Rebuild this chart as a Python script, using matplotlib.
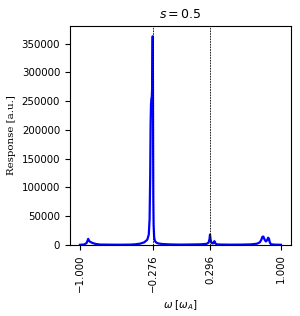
import matplotlib
matplotlib.use('Agg')
import matplotlib.pyplot as plt
import numpy as np

# response curve
omega = [-1.0, -0.96, -0.935, -0.925, -0.918, -0.91, -0.895, -0.87, -0.84, -0.8, -0.7,
         -0.6, -0.5, -0.45, -0.4, -0.36, -0.33, -0.315, -0.307, -0.301, -0.297,
         -0.293, -0.289, -0.285, -0.281, -0.278, -0.276, -0.274, -0.272, -0.27,
         -0.267, -0.262, -0.255, -0.24, -0.22, -0.18, -0.1, 0.0, 0.1, 0.2, 0.26,
         0.28, 0.289, 0.294, 0.3, 0.31, 0.32, 0.33, 0.338, 0.346, 0.36, 0.4, 0.5,
         0.6, 0.7, 0.76, 0.79, 0.805, 0.815, 0.825, 0.838, 0.85, 0.862, 0.872,
         0.88, 0.89, 0.9, 0.93, 1.0]
response = [200, 700, 3000, 7000, 10500, 7000, 5000, 3000, 1500, 600, 400,
            300, 500, 1000, 2200, 4500, 9000, 18000, 45000, 120000, 210000,
            245000, 254000, 258000, 275000, 330000, 363000, 300000, 170000, 80000,
            35000, 14000, 7000, 4000, 2500, 1500, 800, 500, 700, 1000, 1800,
            4000, 10000, 18000, 9000, 3500, 2500, 3500, 6500, 3000, 1000, 600, 400,
            500, 900, 2000, 4500, 9000, 14000, 14500, 9000, 6000, 8000, 12500,
            11000, 4000, 1200, 500, 200]
omega_lines = [-0.276, 0.296]
tick_vals = [-1.0, -0.276, 0.296, 1.0]

plt.rcParams['font.size'] = 7.4

fig = plt.figure(figsize=(3.0, 3.16), dpi=100)
ax = fig.add_axes([0.233, 0.225, 0.737, 0.693])

ax.plot(omega, response, color='blue', lw=1.6)
for w in omega_lines:
  ax.axvline(w, color='black', ls='--', lw=0.6, dashes=(2, 1.2))

ax.set_xticks(tick_vals)
ax.set_xticklabels([('%.3f' % t).replace('-', '\u2212') for t in tick_vals], rotation=90)
ax.set_xlim(-1.1, 1.1)
ax.set_ylim(0, 381000)
ax.ticklabel_format(axis='y', style='plain')

ax.set_title(r'$s = 0.5$', fontsize=9)
ax.set_xlabel(r'$\omega$ $[\omega_A]$')
ax.set_ylabel('Response [a.u.]', family='serif')

fig.savefig('out.png', dpi=100)
